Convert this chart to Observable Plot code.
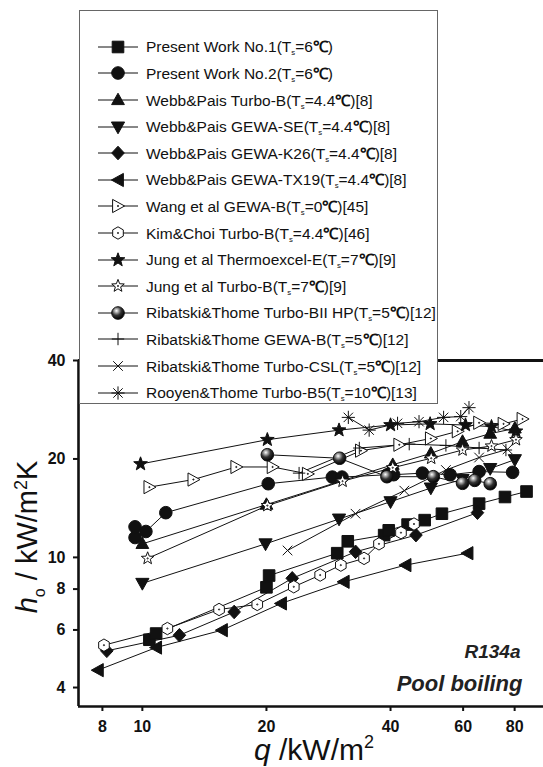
<!DOCTYPE html>
<html>
<head>
<meta charset="utf-8">
<script src="https://cdn.jsdelivr.net/npm/d3@7"></script>
<script src="https://cdn.jsdelivr.net/npm/@observablehq/plot@0.6"></script>
<style>
  html, body { margin: 0; padding: 0; background: #fff; }
  #chart { position: relative; width: 543px; height: 767px; font-family: "Liberation Sans", Arial, sans-serif; }
  #legend { position: absolute; left: 79px; top: 10px; width: 357px; height: 392px; border: 1px solid #666; background: #fff; }
  .row { position: absolute; left: 0; height: 20px; display: flex; align-items: center; font-size: 15.5px; color: #111; white-space: nowrap; }
  .row svg { margin-left: 18px; overflow: visible; flex: none; }
  .row sub { font-size: 0.5em; vertical-align: -0.45em; }
  .row b { font-weight: bold; }
</style>
</head>
<body>
<div id="chart"></div>
<script>
// Heat transfer coefficient h_o (kW/m²K) against heat flux q (kW/m²), R134a pool boiling

const seriesNames = [
  "Present Work No.1", "Present Work No.2",
  "Webb&Pais Turbo-B", "Webb&Pais GEWA-SE", "Webb&Pais GEWA-K26", "Webb&Pais GEWA-TX19",
  "Wang et al GEWA-B", "Kim&Choi Turbo-B",
  "Jung et al Thermoexcel-E", "Jung et al Turbo-B",
  "Ribatski&Thome Turbo-BII HP", "Ribatski&Thome GEWA-B", "Ribatski&Thome Turbo-CSL",
  "Rooyen&Thome Turbo-B5"
];
const satTemps = ["6", "6", "4.4", "4.4", "4.4", "4.4", "0", "4.4", "7", "7", "5", "5", "5", "10"];
const refNumbers = ["", "", "[8]", "[8]", "[8]", "[8]", "[45]", "[46]", "[9]", "[9]", "[12]", "[12]", "[12]", "[13]"];

// [q (kW/m²), h (kW/m²K)]
const presentWork1 = [[10.4, 5.6], [10.8, 5.85], [20.0, 8.1], [20.3, 8.8], [29.7, 10.3], [31.5, 11.2], [38.6, 11.7], [39.6, 12.1], [44.0, 12.6], [48.4, 13.0], [53.3, 13.6], [65.6, 14.6], [75.8, 15.3], [85.5, 15.9]];
const presentWork2 = [[9.6, 11.5], [9.6, 12.4], [10.2, 12.0], [11.4, 13.7], [20.2, 16.8], [28.9, 17.6], [30.5, 17.6], [39.3, 17.9], [40.7, 17.9], [47.8, 18.1], [55.8, 17.9], [65.6, 18.3], [79.1, 18.2]];
const webbTurboB = [[10.0, 11.0], [20.0, 14.5], [40.5, 19.2], [50.1, 20.8], [59.8, 22.6], [69.8, 23.9], [80.1, 24.8]];
const webbGewaSE = [[10.0, 8.33], [19.9, 11.0], [30.0, 13.1], [40.0, 14.8], [50.1, 16.3], [59.8, 17.3], [69.8, 18.7], [80.1, 19.9]];
const webbGewaK26 = [[8.2, 5.18], [12.3, 5.78], [16.7, 6.81], [23.1, 8.63], [32.9, 10.4], [46.1, 11.7], [65.0, 13.7]];
const webbGewaTX19 = [[7.8, 4.52], [10.8, 5.3], [15.6, 5.99], [21.7, 7.23], [30.8, 8.42], [43.5, 9.47], [61.5, 10.3]];
const wangGewaB = [[10.4, 16.4], [13.3, 17.3], [16.9, 18.9], [20.7, 18.9], [25.2, 18.0], [33.9, 21.2], [42.0, 22.1], [50.1, 23.1], [58.2, 24.3], [65.6, 25.8], [75.2, 25.6], [83.6, 26.5]];
const kimChoiTurboB = [[8.07, 5.39], [11.5, 6.06], [15.35, 6.93], [19.0, 7.18], [23.3, 8.13], [27.0, 8.83], [30.3, 9.47], [34.5, 9.93], [37.5, 11.0], [42.4, 11.9], [45.6, 12.65]];
const jungThermoexcelE = [[9.9, 19.3], [20.1, 22.9], [30.0, 24.5], [40.0, 25.4], [49.9, 25.6], [60.8, 25.4], [70.3, 25.1], [80.6, 24.3]];
const jungTurboB = [[10.3, 9.93], [20.1, 14.4], [30.6, 17.1], [40.5, 18.8], [50.2, 20.1], [59.8, 21.3], [70.3, 21.9], [80.6, 22.9]];
const ribatskiTurboBII = [[20.1, 20.6], [30.1, 20.1], [39.2, 17.65], [50.8, 17.65], [59.8, 16.85], [64.0, 17.2], [69.8, 16.8]];
const ribatskiGewaB = [[24.0, 18.1], [33.6, 21.6], [44.4, 22.2], [54.5, 22.0], [65.6, 21.6], [76.2, 21.3]];
const ribatskiTurboCSL = [[22.5, 10.5], [32.9, 13.6], [43.2, 16.0], [54.5, 18.5], [65.6, 20.2], [76.9, 21.4]];
const rooyenTurboB5 = [[31.6, 26.8], [35.5, 24.5], [41.6, 25.7], [46.9, 26.0], [53.8, 26.8], [59.2, 26.95], [62.0, 28.7]];

const seriesData = [presentWork1, presentWork2, webbTurboB, webbGewaSE, webbGewaK26, webbGewaTX19,
  wangGewaB, kimChoiTurboB, jungThermoexcelE, jungTurboB, ribatskiTurboBII, ribatskiGewaB, ribatskiTurboCSL, rooyenTurboB5];

const qRange = [7, 94];
const hRange = [3.5, 40];
const qTicks = [8, 10, 20, 40, 60, 80];
const hTicks = [4, 6, 8, 10, 20, 40];
const annotations = ["R134a", "Pool boiling"];

// Marker shapes (d3 symbol types)
function poly(c, pts) {
  c.moveTo(pts[0][0], pts[0][1]);
  for (let i = 1; i < pts.length; i++) c.lineTo(pts[i][0], pts[i][1]);
  c.closePath();
}
function centerDot(c) { c.moveTo(0.6, 0); c.arc(0, 0, 0.6, 0, 2 * Math.PI); }
function starPts(ro, ri) {
  const p = [];
  for (let i = 0; i < 10; i++) {
    const a = -Math.PI / 2 + i * Math.PI / 5, r = i % 2 ? ri : ro;
    p.push([r * Math.cos(a), r * Math.sin(a)]);
  }
  return p;
}
const shapes = {
  square: { draw(c) { poly(c, [[-5.8, -5.8], [5.8, -5.8], [5.8, 5.8], [-5.8, 5.8]]); } },
  circle: { draw(c) { c.moveTo(6.3, 0); c.arc(0, 0, 6.3, 0, 2 * Math.PI); } },
  triUp: { draw(c) { poly(c, [[0, -6.8], [6.4, 4.6], [-6.4, 4.6]]); } },
  triDown: { draw(c) { poly(c, [[0, 6.8], [6.6, -5], [-6.6, -5]]); } },
  diamond: { draw(c) { poly(c, [[0, -6.8], [6.3, 0], [0, 6.8], [-6.3, 0]]); } },
  triLeft: { draw(c) { poly(c, [[-6.6, 0], [5.4, -6.6], [5.4, 6.6]]); } },
  triRightOpen: { draw(c) { poly(c, [[6.6, 0], [-5.4, -6.6], [-5.4, 6.6]]); centerDot(c); } },
  hexOpen: { draw(c) { poly(c, [[0, -6.2], [5.3, -3.1], [5.3, 3.1], [0, 6.2], [-5.3, 3.1], [-5.3, -3.1]]); centerDot(c); } },
  star: { draw(c) { poly(c, starPts(7.2, 3)); } },
  starOpen: { draw(c) { poly(c, starPts(6.6, 2.8)); centerDot(c); } },
  sphere: { draw(c) { c.moveTo(6.3, 0); c.arc(0, 0, 6.3, 0, 2 * Math.PI); } },
  plus: { draw(c) { c.moveTo(-6.2, 0); c.lineTo(6.2, 0); c.moveTo(0, -6.2); c.lineTo(0, 6.2); } },
  cross: { draw(c) { c.moveTo(-4.8, -4.8); c.lineTo(4.8, 4.8); c.moveTo(-4.8, 4.8); c.lineTo(4.8, -4.8); } },
  asterisk: { draw(c) {
    c.moveTo(-6.6, 0); c.lineTo(6.6, 0); c.moveTo(0, -6.6); c.lineTo(0, 6.6);
    c.moveTo(-4.7, -4.7); c.lineTo(4.7, 4.7); c.moveTo(-4.7, 4.7); c.lineTo(4.7, -4.7);
  } }
};
const seriesSymbols = ["square", "circle", "triUp", "triDown", "diamond", "triLeft", "triRightOpen",
  "hexOpen", "star", "starOpen", "sphere", "plus", "cross", "asterisk"];
const symbolFill = {
  square: "#111", circle: "#111", triUp: "#111", triDown: "#111", diamond: "#111", triLeft: "#111",
  triRightOpen: "#fff", hexOpen: "#fff", star: "#111", starOpen: "#fff", sphere: "url(#sphereShade)",
  plus: "none", cross: "none", asterisk: "none"
};

const font = '"Liberation Sans", Arial, sans-serif';
const qOf = d => d[0], hOf = d => d[1];

const svg = Plot.plot({
  width: 543,
  height: 767,
  marginLeft: 78,
  marginRight: 0,
  marginTop: 360,
  marginBottom: 61,
  style: { fontFamily: font, fontSize: "16px", fontWeight: "bold", color: "#111", background: "#fff" },
  x: { type: "log", domain: qRange },
  y: { type: "log", domain: hRange },
  marks: [
    Plot.ruleY([hRange[1]], { stroke: "#111", strokeWidth: 3 }),
    Plot.ruleY([hRange[0]], { stroke: "#111", strokeWidth: 2.6 }),
    Plot.ruleX([qRange[0]], { stroke: "#111", strokeWidth: 2.6 }),
    Plot.axisX({ ticks: qTicks, tickFormat: d => String(d), tickSize: 5, tickPadding: 9, strokeWidth: 2, label: null }),
    Plot.axisY({ ticks: hTicks, tickFormat: d => String(d), tickSize: 5, tickPadding: 8, strokeWidth: 2, label: null }),
    ...seriesData.map(pts => Plot.line(pts, { x: qOf, y: hOf, stroke: "#111", strokeWidth: 1 })),
    ...seriesData.map((pts, i) => {
      const s = seriesSymbols[i];
      return Plot.dot(pts, { x: qOf, y: hOf, r: 6, symbol: shapes[s], fill: symbolFill[s], stroke: "#111", strokeWidth: 1 });
    }),
    Plot.text([annotations[0]], { text: d => d, frameAnchor: "bottom-right", textAnchor: "end", lineAnchor: "middle",
      dx: -23, dy: -55, fontSize: 19, fontWeight: "bold", fontStyle: "italic", fill: "#222" }),
    Plot.text([annotations[1]], { text: d => d, frameAnchor: "bottom-right", textAnchor: "end", lineAnchor: "middle",
      dx: -21, dy: -23, fontSize: 22, fontWeight: "bold", fontStyle: "italic", fill: "#222" })
  ]
});

const sel = d3.select(svg);
sel.insert("defs", ":first-child").html(
  '<radialGradient id="sphereShade" cx="0.38" cy="0.32" r="0.68">' +
  '<stop offset="0" stop-color="#fff"/><stop offset="0.18" stop-color="#bbb"/>' +
  '<stop offset="0.55" stop-color="#333"/><stop offset="1" stop-color="#000"/></radialGradient>');

// Axis titles with sub/superscripts
const yTitle = sel.append("text")
  .attr("transform", "translate(37,537) rotate(-90)")
  .attr("text-anchor", "middle")
  .style("font-size", "29px").style("font-weight", "normal").attr("fill", "#111");
yTitle.append("tspan").style("font-style", "italic").text("h");
yTitle.append("tspan").attr("dy", 8).style("font-size", "16px").text("o");
yTitle.append("tspan").attr("dy", -8).text(" / kW/m");
yTitle.append("tspan").attr("dy", -10).style("font-size", "18px").text("2");
yTitle.append("tspan").attr("dy", 10).text("K");

const xTitle = sel.append("text")
  .attr("x", 314).attr("y", 760)
  .attr("text-anchor", "middle")
  .style("font-size", "30px").style("font-weight", "normal").attr("fill", "#111");
xTitle.append("tspan").style("font-style", "italic").text("q");
xTitle.append("tspan").text(" /kW/m");
xTitle.append("tspan").attr("dy", -12).style("font-size", "18px").text("2");

const chart = document.getElementById("chart");
chart.appendChild(svg);

// Legend box
const legend = d3.select(chart).append("div").attr("id", "legend");
seriesNames.forEach((name, i) => {
  const s = seriesSymbols[i];
  const row = legend.append("div").attr("class", "row").style("top", `${35.7 + i * 26.6 - 10}px`);
  const key = row.append("svg").attr("width", 48).attr("height", 20);
  key.append("line").attr("x1", 0).attr("x2", 40).attr("y1", 10).attr("y2", 10).attr("stroke", "#111").attr("stroke-width", 1);
  key.append("path")
    .attr("transform", "translate(20,10)")
    .attr("d", d3.symbol(shapes[s], 36 * Math.PI)())
    .attr("fill", symbolFill[s]).attr("stroke", "#111").attr("stroke-width", 1);
  const label = row.append("span");
  label.append("span").text(`${name}(T`);
  label.append("sub").text("s");
  label.append("span").text(`=${satTemps[i]}`);
  label.append("b").text("℃");
  label.append("span").text(`)${refNumbers[i]}`);
});
</script>
</body>
</html>
